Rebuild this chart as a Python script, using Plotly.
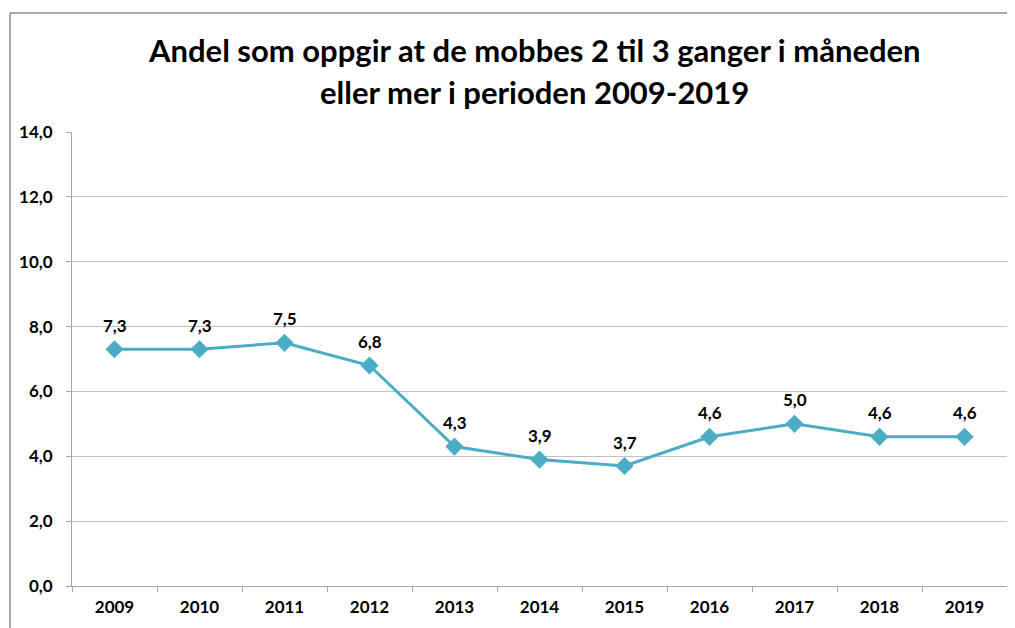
import plotly.graph_objects as go

years = ["2009", "2010", "2011", "2012", "2013", "2014", "2015", "2016", "2017", "2018", "2019"]
values = [7.3, 7.3, 7.5, 6.8, 4.3, 3.9, 3.7, 4.6, 5.0, 4.6, 4.6]
labels = [f"{v:.1f}".replace(".", ",") for v in values]
title_lines = ["Andel som oppgir at de mobbes 2 til 3 ganger i måneden",
               "eller mer i perioden 2009-2019"]

FONT = "Lato"
LINE = "#4BACC6"
GRID = "#C0C0C0"
AXIS = "#A6A6A6"

# The page body has an 8px margin, so the figure starts at (8, 8) in the window.
OFF = 8
W, H = 1015 - OFF, 628 - OFF
L, R, T, B = 72 - OFF, 8, 132 - OFF, 42
pw, ph = W - L - R, H - T - B
def px_x(p):  # window pixel -> paper x
    return (p - OFF - L) / pw
def px_y(p):  # window pixel -> paper y
    return 1 - (p - OFF - T) / ph

fig = go.Figure()
fig.add_trace(go.Scatter(
    x=years, y=values, mode="lines+markers",
    line=dict(color=LINE, width=3),
    marker=dict(symbol="diamond", size=14, color=LINE),
    hoverinfo="skip",
))

annotations = []
for i, (v, lab) in enumerate(zip(values, labels)):
    annotations.append(dict(
        x=i, y=v, xref="x", yref="y", text=f"<b>{lab}</b>", showarrow=False,
        yanchor="middle", xanchor="center", yshift=24,
        font=dict(family=FONT, size=17, color="#000000"),
    ))
for line_text, cy in zip(title_lines, [50, 92]):
    annotations.append(dict(
        x=px_x(534), y=px_y(cy), xref="paper", yref="paper",
        text=f"<b>{line_text}</b>", showarrow=False,
        xanchor="center", yanchor="middle",
        font=dict(family=FONT, size=31, color="#000000"),
    ))

fig.update_layout(
    width=W, height=H,
    margin=dict(l=L, r=R, t=T, b=B),
    paper_bgcolor="white", plot_bgcolor="white",
    separators=",.",
    showlegend=False,
    xaxis=dict(
        type="category", tickson="boundaries", ticks="outside", ticklen=5,
        tickcolor=AXIS, showline=True, linecolor=AXIS, linewidth=1,
        showgrid=False, ticklabelstandoff=6,
        tickfont=dict(family=FONT, size=17, color="#000000", weight="bold"),
        range=[-0.5, 10.5], fixedrange=True,
    ),
    yaxis=dict(
        range=[0, 14], dtick=2, tickformat=".1f", ticks="outside", ticklen=5,
        tickcolor=AXIS, showline=True, linecolor=AXIS, linewidth=1,
        showgrid=True, gridcolor=GRID, gridwidth=1, zeroline=False,
        ticklabelstandoff=10,
        tickfont=dict(family=FONT, size=17, color="#000000", weight="bold"),
        fixedrange=True,
    ),
    annotations=annotations,
    shapes=[
        dict(type="line", xref="paper", yref="paper",
             x0=px_x(10), x1=px_x(10), y0=px_y(700), y1=px_y(13),
             line=dict(color="#8C8C8C", width=1.5)),
        dict(type="line", xref="paper", yref="paper",
             x0=px_x(10), x1=px_x(1100), y0=px_y(13), y1=px_y(13),
             line=dict(color="#8C8C8C", width=1.5)),
    ],
)

fig.write_html("out.html")
